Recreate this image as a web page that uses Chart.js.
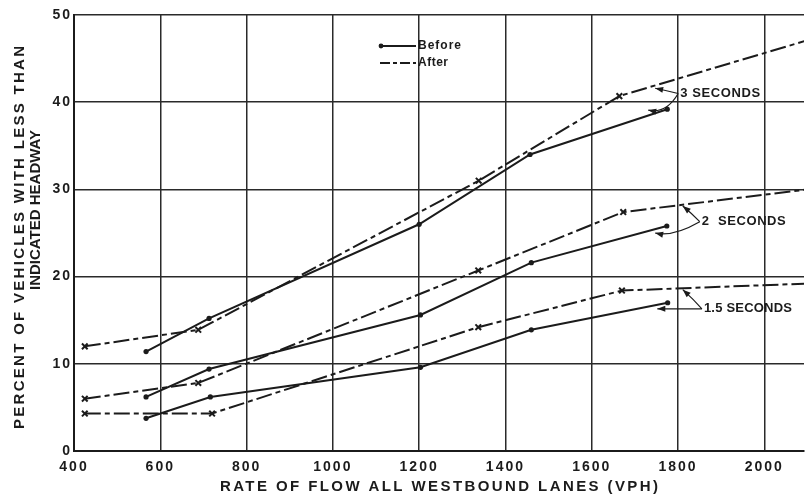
<!DOCTYPE html>
<html>
<head>
	<meta charset="utf-8">
	<title>Headway vs Flow</title>
	<script src="https://cdn.jsdelivr.net/npm/chart.js@4.4.1/dist/chart.umd.min.js"></script>
	<style>
		html, body { margin: 0; padding: 0; background: #fff; }
		#wrap { width: 810px; height: 498px; }
	</style>
</head>
<body>
	<div id="wrap"><canvas id="myChart"></canvas></div>

	<script>
		// values (x = vph, y = percent)
		const before3X = [567, 713, 1200, 1457, 1775];
		const before3Y = [11.4, 15.2, 26.0, 34.0, 39.2];
		const after3X = [425, 688, 1338, 1664, 2100];
		const after3Y = [12.0, 13.9, 31.0, 40.7, 47.1];

		const before2X = [567, 713, 1203, 1460, 1774];
		const before2Y = [6.2, 9.4, 15.6, 21.6, 25.8];
		const after2X = [425, 688, 1337, 1673, 2100];
		const after2Y = [6.0, 7.8, 20.7, 27.4, 30.0];

		const before15X = [567, 716, 1203, 1460, 1776];
		const before15Y = [3.75, 6.2, 9.6, 13.9, 17.0];
		const after15X = [425, 720, 1337, 1670, 2100];
		const after15Y = [4.3, 4.3, 14.2, 18.4, 19.2];

		const xTicks = [400, 600, 800, 1000, 1200, 1400, 1600, 1800, 2000];
		const yTicks = [0, 10, 20, 30, 40, 50];

		const xTitle = 'RATE OF FLOW ALL WESTBOUND LANES (VPH)';
		const yTitle = ['PERCENT OF VEHICLES WITH LESS THAN', 'INDICATED HEADWAY'];

		const ink = '#1b1b1b';
		const FONT = '"Liberation Sans", Arial, sans-serif';
		const afterDash = [16, 4, 5, 4];

		function pts(xs, ys) {
			return xs.map(function (x, i) { return { x: x, y: ys[i] }; });
		}

		function beforeSet(label, xs, ys) {
			return {
				label: label, data: pts(xs, ys), showLine: true,
				borderColor: ink, backgroundColor: ink, borderWidth: 2,
				pointStyle: 'circle', pointRadius: 2.6, pointBorderWidth: 0, tension: 0
			};
		}
		function afterSet(label, xs, ys) {
			return {
				label: label, data: pts(xs, ys), showLine: true,
				borderColor: ink, backgroundColor: ink, borderWidth: 2,
				borderDash: afterDash,
				pointStyle: 'crossRot', pointRadius: 4, pointBorderWidth: 2, tension: 0
			};
		}

		// "N SECONDS" callouts, placed in data units; w = printed width
		const notes = [
			{ text: '3 SECONDS', w: 80, at: [1805, 41.0], tips: [[1747, 41.6, 0], [1731, 39.1, 1]] },
			{ text: '2  SECONDS', w: 84, at: [1855, 26.3], tips: [[1811, 28.1, 0], [1747, 25.0, 1]] },
			{ text: '1.5 SECONDS', w: 88, at: [1860, 16.3], tips: [[1811, 18.5, 0], [1752, 16.3, 0]] }
		];

		// old lettering is spread out, so stretch the text to a given width
		function fitText(ctx, text, x, y, width, font) {
			ctx.font = font;
			ctx.letterSpacing = '0px';
			const w0 = ctx.measureText(text).width;
			const sp = Math.max(0, (width - w0) / Math.max(1, text.length - 1));
			ctx.letterSpacing = sp + 'px';
			ctx.textAlign = 'left';
			ctx.fillText(text, x, y);
			ctx.letterSpacing = '0px';
		}

		function arrowHead(ctx, x0, y0, x1, y1) {
			const a = Math.atan2(y1 - y0, x1 - x0);
			const L = 8, W = 3;
			ctx.beginPath();
			ctx.moveTo(x1, y1);
			ctx.lineTo(x1 - L * Math.cos(a) + W * Math.sin(a), y1 - L * Math.sin(a) - W * Math.cos(a));
			ctx.lineTo(x1 - L * Math.cos(a) - W * Math.sin(a), y1 - L * Math.sin(a) + W * Math.cos(a));
			ctx.closePath();
			ctx.fill();
		}

		const extras = {
			id: 'extras',
			beforeDraw(chart) {
				chart.ctx.letterSpacing = '2px';
			},
			afterDatasetsDraw(chart) {
				const ctx = chart.ctx;
				const xs = chart.scales.x, ys = chart.scales.y;
				const area = chart.chartArea;
				ctx.save();
				ctx.strokeStyle = ink;
				ctx.fillStyle = ink;
				ctx.textBaseline = 'middle';

				// legend
				ctx.lineWidth = 2;
				ctx.beginPath(); ctx.moveTo(380, 46); ctx.lineTo(416, 46); ctx.stroke();
				ctx.beginPath(); ctx.arc(381, 46, 2.4, 0, Math.PI * 2); ctx.fill();
				ctx.setLineDash([10, 3, 4, 3]);
				ctx.beginPath(); ctx.moveTo(380, 63); ctx.lineTo(416, 63); ctx.stroke();
				ctx.setLineDash([]);
				fitText(ctx, 'Before', 418, 46, 43, 'bold 12px ' + FONT);
				fitText(ctx, 'After', 418, 63, 30, 'bold 12px ' + FONT);

				// callouts
				notes.forEach(function (n) {
					const tx = xs.getPixelForValue(n.at[0]);
					const ty = ys.getPixelForValue(n.at[1]);
					fitText(ctx, n.text, tx, ty, n.w, 'bold 13px ' + FONT);
					n.tips.forEach(function (t) {
						const px = xs.getPixelForValue(t[0]);
						const py = ys.getPixelForValue(t[1]);
						ctx.lineWidth = 1.2;
						ctx.beginPath();
						ctx.moveTo(tx - 2, ty);
						let cx = (tx + px) / 2, cy = (ty + py) / 2;
						if (t[2]) { cx = px + 18; cy = py + 4; }
						ctx.quadraticCurveTo(cx, cy, px, py);
						ctx.stroke();
						arrowHead(ctx, cx, cy, px, py);
					});
				});

				// axis titles
				const tf = 'bold 15px ' + FONT;
				const xc = (area.left + area.right) / 2;
				fitText(ctx, xTitle, xc - 219, 487, 438, tf);

				ctx.translate(20, 238);
				ctx.rotate(-Math.PI / 2);
				fitText(ctx, yTitle[0], -191, 0, 383, tf);
				fitText(ctx, yTitle[1], 28 - 80, 16, 160, tf);
				ctx.restore();
			},
			afterDraw(chart) {
				chart.ctx.letterSpacing = '0px';
			}
		};

		const ctx = document.getElementById('myChart');
		const chart = new Chart(ctx, {
			type: 'scatter',
			data: {
				datasets: [
					beforeSet('Before 3 s', before3X, before3Y),
					afterSet('After 3 s', after3X, after3Y),
					beforeSet('Before 2 s', before2X, before2Y),
					afterSet('After 2 s', after2X, after2Y),
					beforeSet('Before 1.5 s', before15X, before15Y),
					afterSet('After 1.5 s', after15X, after15Y)
				]
			},
			options: {
				responsive: true,
				maintainAspectRatio: false,
				animation: false,
				layout: { padding: { top: 15, right: 0, left: 0, bottom: 0 } },
				plugins: {
					legend: { display: false },
					tooltip: { enabled: false }
				},
				scales: {
					x: {
						type: 'linear', min: 400, max: 2092,
						afterBuildTicks: function (s) { s.ticks = xTicks.map(function (v) { return { value: v }; }); },
						ticks: {
							color: ink, font: { family: FONT, size: 14, weight: 'bold' }, padding: 8, maxRotation: 0,
							callback: function (v) { return String(v); }
						},
						grid: { color: '#2a2a2a', lineWidth: 1.5, drawTicks: false },
						border: { color: ink, width: 2 },
						title: { display: false },
						afterFit: function (s) { s.height = 47; }
					},
					y: {
						type: 'linear', min: 0, max: 50,
						afterBuildTicks: function (s) { s.ticks = yTicks.map(function (v) { return { value: v }; }); },
						ticks: {
							color: ink, font: { family: FONT, size: 14, weight: 'bold' }, padding: 2,
							callback: function (v) { return String(v); }
						},
						grid: { color: '#2a2a2a', lineWidth: 1.5, drawTicks: false },
						border: { color: ink, width: 2 },
						title: { display: false },
						afterFit: function (s) { s.width = 74; }
					}
				}
			},
			plugins: [extras]
		});
	</script>
</body>
</html>
